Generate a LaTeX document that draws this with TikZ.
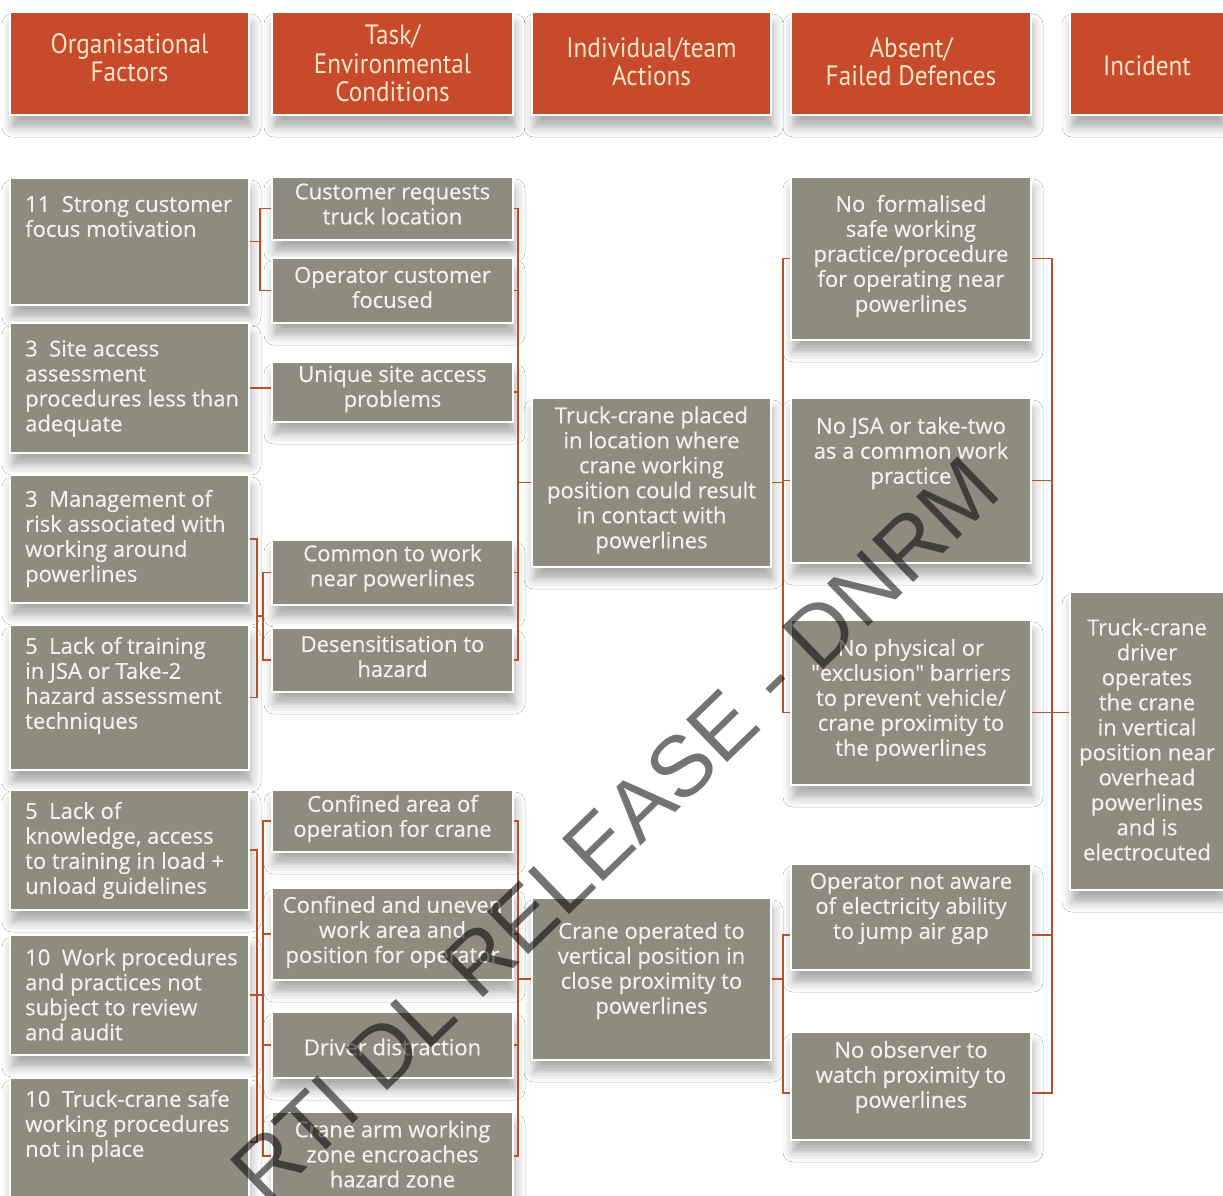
\documentclass[tikz,border=0pt]{standalone}
\usepackage{fontspec}
\setmainfont{Open Sans}[FakeBold=0.5]
\newfontfamily\headfont{PT Sans}[FakeStretch=0.9]
\newfontfamily\stampfont{Liberation Sans}
\usetikzlibrary{shadows.blur}
\definecolor{headfill}{HTML}{C64A2B}
\definecolor{headink}{HTML}{F8E5C4}
\definecolor{cellfill}{HTML}{8E8B7F}
\definecolor{cellink}{HTML}{F3F1EA}
\definecolor{linkc}{HTML}{B4532B}
\begin{document}
\begin{tikzpicture}[x=1pt,y=-1pt,
  cellbase/.style={rectangle, inner sep=0pt, draw=white, line width=2.5pt,
    blur shadow={shadow xshift=2pt, shadow yshift=-12pt, shadow blur radius=10pt, shadow opacity=34}},
  sz/.style 2 args={minimum width=#1pt, minimum height=#2pt},
  cell/.style={cellbase, fill=cellfill},
  headcell/.style={cellbase, fill=headfill},
  celltext/.style={inner sep=0pt, text=cellink, align=center, font=\fontsize{22}{25}\selectfont},
  lefttext/.style={celltext, align=left, anchor=west},
  headtext/.style={inner sep=0pt, text=headink, align=center, font=\headfont\fontsize{28}{28.5}\selectfont},
  link/.style={draw=linkc, line width=1.8pt},
]
\fill[white] (0,0) rectangle (1223,1196);
\useasboundingbox (0,0) rectangle (1223,1196);

% column headings
\node[headcell, sz={239}{103}] (h1) at (129.5,63.5) {};
\node[headcell, sz={241}{103}] (h2) at (392.5,63.5) {};
\node[headcell, sz={239}{103}] (h3) at (651.5,63.5) {};
\node[headcell, sz={240}{103}] (h4) at (911,63.5) {};
\node[headcell, sz={154}{103}] (h5) at (1147,63.5) {};
\node[headtext] (h1t) at (129.5,57.5) {Organisational\\Factors};
\node[headtext] (h2t) at (392.5,63.5) {Task/\\Environmental\\Conditions};
\node[headtext] (h3t) at (651.5,61.5) {Individual/team\\Actions};
\node[headtext] (h4t) at (911,61.5) {Absent/\\Failed Defences};
\node[headtext] (h5t) at (1147,66) {Incident};

% organisational factors
\node[cell, sz={239}{127}] (a1) at (129.5,241.5) {};
\node[cell, sz={239}{130}] (a2) at (129.5,388) {};
\node[cell, sz={239}{128}] (a3) at (129.5,539) {};
\node[cell, sz={239}{145}] (a4) at (129.5,697.5) {};
\node[cell, sz={239}{120}] (a5) at (129.5,850) {};
\node[cell, sz={239}{120}] (a6) at (129.5,995) {};
\node[cell, sz={239}{128}] (a7) at (129.5,1142) {};

% task / environmental conditions
\node[cell, sz={241}{63}] (b1) at (392.5,208.5) {};
\node[cell, sz={241}{65}] (b2) at (392.5,290.5) {};
\node[cell, sz={241}{60}] (b3) at (392.5,392) {};
\node[cell, sz={241}{65}] (b4) at (392.5,572.5) {};
\node[cell, sz={241}{64}] (b5) at (392.5,660) {};
\node[cell, sz={241}{62}] (b6) at (392.5,821) {};
\node[cell, sz={241}{92}] (b7) at (392.5,934) {};
\node[cell, sz={241}{66}] (b8) at (392.5,1045) {};
\node[cell, sz={241}{88}] (b9) at (392.5,1156) {};

% individual / team actions
\node[cell, sz={239}{169}] (c1) at (651.5,482.5) {};
\node[cell, sz={239}{162}] (c2) at (651.5,979) {};

% absent / failed defences
\node[cell, sz={240}{163}] (d1) at (911,258.5) {};
\node[cell, sz={240}{165}] (d2) at (911,480.5) {};
\node[cell, sz={240}{165}] (d3) at (911,702.5) {};
\node[cell, sz={240}{106}] (d4) at (911,917) {};
\node[cell, sz={240}{108}] (d5) at (911,1086) {};

% incident
\node[cell, sz={154}{298}] (e1) at (1147,741) {};

% texts
\node[lefttext] (a1t) at (25,216.5) {11\ \ Strong customer\\focus motivation};
\node[lefttext] (a2t) at (25,388.5) {3\ \ Site access\\assessment\\procedures less than\\adequate};
\node[lefttext] (a3t) at (25,538.5) {3\ \ Management of\\risk associated with\\working around\\powerlines};
\node[lefttext] (a4t) at (25,685.5) {5\ \ Lack of training\\in JSA or Take-2\\hazard assessment\\techniques};
\node[lefttext] (a5t) at (25,850.5) {5\ \ Lack of\\knowledge, access\\to training in load +\\unload guidelines};
\node[lefttext] (a6t) at (25,994.5) {10\ \ Work procedures\\and practices not\\subject to review\\and audit};
\node[lefttext] (a7t) at (25,1126) {10\ \ Truck-crane safe\\working procedures\\not in place};

\node[celltext] (b1t) at (392.5,204) {Customer requests\\truck location};
\node[celltext] (b2t) at (392.5,287.5) {Operator customer\\focused};
\node[celltext] (b3t) at (392.5,389) {Unique site access\\problems};
\node[celltext] (b4t) at (392.5,568) {Common to work\\near powerlines};
\node[celltext] (b5t) at (392.5,656.5) {Desensitisation to\\hazard};
\node[celltext] (b6t) at (392.5,818.5) {Confined area of\\operation for crane};
\node[celltext] (b7t) at (392.5,932) {Confined and uneven\\work area and\\position for operator};
\node[celltext] (b8t) at (392.5,1047) {Driver distraction};
\node[celltext] (b9t) at (392.5,1154) {Crane arm working\\zone encroaches\\hazard zone};

\node[celltext] (c1t) at (651.5,480) {Truck-crane placed\\in location where\\crane working\\position could result\\in contact with\\powerlines};
\node[celltext] (c2t) at (651.5,970.5) {Crane operated to\\vertical position in\\close proximity to\\powerlines};

\node[celltext] (d1t) at (911,256) {No\ \ formalised\\safe working\\practice/procedure\\for operating near\\powerlines};
\node[celltext] (d2t) at (911,453) {No JSA or take-two\\as a common work\\practice};
\node[celltext] (d3t) at (911,700) {No physical or\\\textquotedbl exclusion\textquotedbl\ barriers\\to prevent vehicle/\\crane proximity to\\the powerlines};
\node[celltext] (d4t) at (911,908.5) {Operator not aware\\of electricity ability\\to jump air gap};
\node[celltext] (d5t) at (911,1077) {No observer to\\watch proximity to\\powerlines};

\node[celltext] (e1t) at (1147,739.5) {Truck-crane\\driver\\operates\\the crane\\in vertical\\position near\\overhead\\powerlines\\and is\\electrocuted};

% bracket rails and tick points
\coordinate (k1) at (260,0);
\coordinate (k2) at (518,0);
\coordinate (k3) at (257,0);
\coordinate (k4) at (263,0);
\coordinate (k5) at (783,0);
\coordinate (k6) at (1052,0);
\coordinate (j1) at (0,616);
\coordinate (d3l) at ([yshift=-10pt]d3.west);
\coordinate (d3r) at ([yshift=-10pt]d3.east);
\coordinate (d4l) at ([yshift=-18pt]d4.west);
\coordinate (d4r) at ([yshift=-18pt]d4.east);
\coordinate (d5l) at ([yshift=-7pt]d5.west);
\coordinate (d5r) at ([yshift=-7pt]d5.east);

% organisational factors -> conditions
\draw[link] (b1.west) -- (b1.west -| k1) -- (b2.west -| k1) -- (b2.west);
\draw[link] (a1.east) -- (a1.east -| k1);
\draw[link] (a2.east) -- (a2.east -| b3.west);
\draw[link] (a3.east) -- (a3.east -| k3) -- (a4.east -| k3) -- (a4.east);
\draw[link] (b4.west) -- (b4.west -| k4) -- (b5.west -| k4) -- (b5.west);
\draw[link] (j1 -| k3) -- (j1 -| k4);
\draw[link] (a5.east) -- (a5.east -| k3) -- (a7.east -| k3) -- (a7.east);
\draw[link] (a6.east) -- (a6.east -| k4);
\draw[link] (b6.west) -- (b6.west -| k4) -- (b9.west -| k4) -- (b9.west);
\draw[link] (b7.west) -- (b7.west -| k4);
\draw[link] (b8.west) -- (b8.west -| k4);

% conditions -> actions
\draw[link] (b1.east) -- (b1.east -| k2) -- (b5.east -| k2) -- (b5.east);
\foreach \n in {b2,b3,b4} \draw[link] (\n.east) -- (\n.east -| k2);
\draw[link] (c1.west) -- (c1.west -| k2);
\draw[link] (b6.east) -- (b6.east -| k2) -- (b9.east -| k2) -- (b9.east);
\foreach \n in {b7,b8} \draw[link] (\n.east) -- (\n.east -| k2);
\draw[link] (c2.west) -- (c2.west -| k2);

% actions -> defences
\draw[link] (d1.west) -- (d1.west -| k5) -- (d3l -| k5) -- (d3l);
\draw[link] (d2.west) -- (d2.west -| k5);
\draw[link] (c1.east) -- (c1.east -| k5);
\draw[link] (d4l) -- (d4l -| k5) -- (d5l -| k5) -- (d5l);
\draw[link] (c2.east) -- (c2.east -| k5);

% defences -> incident
\draw[link] (d1.east) -- (d1.east -| k6) -- (d5r -| k6) -- (d5r);
\draw[link] (d2.east) -- (d2.east -| k6);
\draw[link] (d4r) -- (d4r -| k6);
\draw[link] (d3r) -- (d3r -| e1.west);

% release stamp
\node[rotate=44, inner sep=0pt, text=black, text opacity=0.55,
  font=\stampfont\fontsize{86}{86}\selectfont] (stamp) at (615,830) {RTI DL RELEASE - DNRM};
\end{tikzpicture}
\end{document}
